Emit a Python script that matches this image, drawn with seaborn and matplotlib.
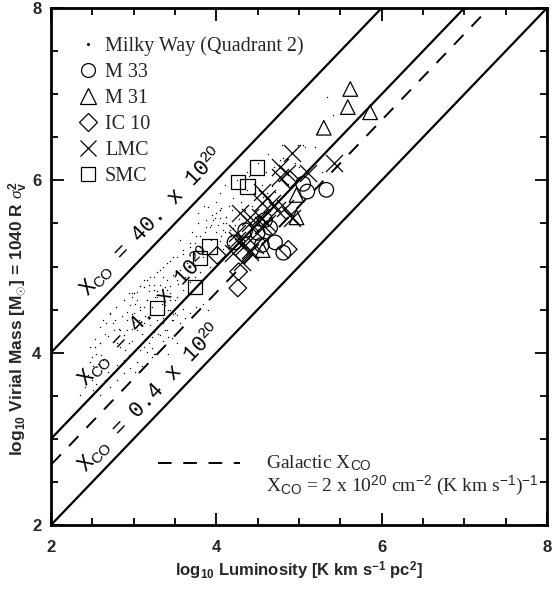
import numpy as np
import pandas as pd
import matplotlib
matplotlib.use("Agg")
import matplotlib.pyplot as plt
import seaborn as sns
from matplotlib.lines import Line2D
from matplotlib.ticker import MultipleLocator

# ---------------- data (log10 L_CO, log10 M_vir) ----------------
mw_lum = [2.94, 2.98, 3.04, 3.12, 3.18, 3.24, 3.28, 3.32, 3.38, 3.44, 3.50, 3.52, 3.48, 3.42, 3.46, 3.36,
          3.28, 3.20, 3.14, 3.08, 3.02, 2.96, 2.92, 2.98, 2.86, 2.78, 2.71, 2.67, 2.65, 2.59, 2.53, 2.49,
          2.55, 2.61, 2.76, 2.80, 2.84, 2.90, 2.94, 2.98, 2.88, 2.92, 2.98, 3.04, 3.10, 3.14, 3.18, 3.12,
          3.08, 3.16, 3.22, 3.24, 3.36, 3.42, 3.40, 3.32, 3.26, 3.20, 3.12, 3.06, 3.00, 2.82,
          2.76, 2.53, 2.47, 2.51, 2.57, 2.63, 2.69, 2.65, 2.55, 2.49, 2.45, 2.41, 2.51, 2.59, 2.47, 2.35,
          2.80, 2.88, 2.94, 3.04, 3.10, 3.02, 2.96, 2.88, 2.80, 2.71,
          3.90, 4.04, 3.98, 3.92, 3.86, 4.00, 4.08, 4.06, 3.76, 3.68, 3.80, 3.60, 3.52, 3.44, 3.36, 3.28,
          3.20, 3.12, 3.08, 3.18, 3.24, 3.32, 3.40, 3.48, 3.56, 3.64, 3.72, 3.62, 3.54, 3.44, 3.36, 3.26,
          3.16, 3.12, 3.22, 3.34, 3.44, 3.52, 3.60, 3.68, 3.42, 3.50, 3.04, 3.00, 3.88, 4.12, 4.16, 3.94,
          3.84, 3.92, 3.80, 3.74, 4.00, 3.78, 3.70,
          3.38, 3.44, 3.42, 3.36, 3.28, 3.24, 3.22, 3.30, 3.38, 3.48, 3.56, 3.62, 3.68, 3.76, 3.84, 3.60,
          3.52, 3.46, 3.38, 3.32, 3.26, 3.22, 3.42, 3.52, 3.90,
          4.63, 4.99, 5.07, 5.23, 4.77, 4.61, 4.67, 4.71, 4.57, 4.06, 4.19, 4.23, 4.04, 4.12, 3.94, 4.37,
          4.43, 4.37, 4.79, 4.87, 4.67,
          5.34, 5.41, 5.05, 5.19, 5.28, 4.95, 4.81,
          4.04, 4.12, 3.96, 3.88, 4.08, 4.17, 3.80, 3.74, 3.68, 3.56, 3.60, 3.48, 3.40, 3.32, 3.24, 3.16,
          3.08, 2.98, 2.88, 2.79, 2.71, 2.63, 2.59, 2.75, 2.92, 2.84, 2.69, 2.59, 2.47, 3.16, 3.28, 3.40,
          3.52, 3.36, 3.08, 3.00,
          4.05, 4.10, 4.15, 4.20, 4.08, 4.18,
          4.00, 4.05, 4.10, 4.15, 4.20, 4.25, 4.30, 4.35, 4.40, 4.45, 4.50, 4.55, 4.60, 4.70, 4.75, 4.85,
          4.90, 4.95, 5.00, 3.95, 3.85, 3.78, 4.02, 4.28, 4.45]
mw_mass = [4.69, 4.65, 4.70, 4.76, 4.72, 4.78, 4.72, 4.67, 4.76, 4.69, 4.61, 4.53, 4.45, 4.42, 4.38, 4.40,
           4.38, 4.45, 4.42, 4.53, 4.57, 4.55, 4.47, 4.45, 4.42, 4.38, 4.45, 4.34, 4.22, 4.11, 4.07, 3.95,
           3.99, 3.97, 4.14, 4.11, 4.07, 4.03, 4.11, 4.14, 4.20, 4.26, 4.28, 4.26, 4.22, 4.16, 4.11, 4.07,
           4.03, 4.01, 4.05, 3.99, 4.13, 4.18, 4.26, 4.20, 4.26, 4.32, 4.34, 4.38, 4.36, 4.28,
           4.26, 4.16, 3.89, 3.84, 3.87, 3.91, 3.78, 3.68, 3.64, 3.68, 3.74, 3.60, 3.57, 3.51, 3.49, 3.51,
           3.86, 3.91, 3.97, 3.89, 3.84, 3.78, 3.82, 3.76, 3.68, 3.60,
           5.69, 5.65, 5.56, 5.46, 5.40, 5.40, 5.50, 5.35, 5.35, 5.27, 5.23, 5.19, 5.11, 5.06, 5.00, 4.94,
           4.88, 4.84, 4.77, 4.79, 4.73, 4.79, 4.84, 4.90, 4.96, 5.04, 5.09, 4.88, 4.80, 4.77, 4.69, 4.65,
           4.61, 4.53, 4.53, 4.57, 4.61, 4.65, 4.73, 4.82, 4.50, 4.46, 4.61, 4.69, 5.54, 5.58, 5.42, 5.31,
           5.11, 5.00, 4.94, 4.88, 5.62, 5.50, 5.40,
           4.55, 4.49, 4.42, 4.34, 4.30, 4.24, 4.18, 4.22, 4.26, 4.38, 4.34, 4.40, 4.46, 4.53, 4.57, 4.51,
           4.44, 4.17, 4.09, 4.03, 3.99, 3.95, 3.99, 4.11, 4.49,
           6.31, 6.41, 6.39, 6.56, 6.24, 5.85, 5.93, 5.87, 5.81, 5.68, 5.66, 5.48, 5.56, 5.50, 5.48, 5.89,
           5.70, 6.10, 6.41, 5.96, 6.06,
           6.97, 6.76, 6.41, 6.39, 6.10, 6.20, 6.26,
           5.65, 5.58, 5.54, 5.46, 5.42, 5.35, 5.35, 5.27, 5.23, 5.31, 5.15, 5.11, 5.04, 4.96, 4.88, 4.84,
           4.77, 4.69, 4.61, 4.53, 4.46, 4.38, 4.30, 4.34, 4.38, 4.26, 4.19, 4.11, 4.07, 4.61, 4.65, 4.73,
           4.84, 4.88, 4.50, 4.46,
           5.30, 5.40, 5.25, 5.45, 5.20, 5.35,
           5.75, 5.85, 5.95, 5.70, 5.80, 6.00, 5.75, 5.65, 6.05, 5.85, 6.20, 5.95, 6.10, 6.15, 6.00, 6.25,
           6.10, 6.35, 6.15, 5.60, 5.70, 5.62, 5.48, 5.55, 5.62]

m33_lum = [5.33, 5.10, 5.05, 4.59, 4.65, 4.50, 4.22, 4.71, 4.81, 4.35, 4.55]
m33_mass = [5.89, 5.87, 5.96, 5.54, 5.45, 5.39, 5.28, 5.28, 5.16, 5.42, 5.25]

m31_lum = [5.62, 5.59, 5.86, 5.30, 4.97, 4.97, 4.56]
m31_mass = [7.06, 6.85, 6.79, 6.61, 5.83, 5.57, 5.19]

ic10_lum = [4.01, 4.27, 4.26, 4.87, 4.89]
ic10_mass = [5.13, 4.94, 4.75, 5.20, 6.01]

lmc_lum = [4.91, 4.77, 4.85, 5.11, 5.42, 4.77, 4.55, 4.61, 4.67, 4.55, 4.73, 4.83, 4.91, 4.89, 4.29,
           4.41, 4.53, 4.61, 4.56, 4.41, 4.49, 4.25, 4.32, 4.41, 4.20, 4.25, 4.32, 4.41, 4.31, 4.47]
lmc_mass = [6.32, 6.16, 6.08, 6.08, 6.20, 6.04, 5.86, 5.79, 5.74, 5.74, 5.65, 5.68, 5.56, 5.60, 5.62,
            5.57, 5.57, 5.50, 5.48, 5.50, 5.39, 5.39, 5.27, 5.19, 5.16, 5.31, 5.23, 5.17, 5.05, 5.25]

smc_lum = [3.28, 3.74, 3.80, 3.92, 4.26, 4.38, 4.49]
smc_mass = [4.52, 4.76, 5.10, 5.23, 5.98, 5.93, 6.15]

# X_CO relations (units of 1e20), M = L + log10(X / 0.4)
xco_lines = [40.0, 4.0, 0.4]
xco_labels = ["40.", "4.", "0.4"]
galactic_xco = 2.0

legend_labels = ["Milky Way (Quadrant 2)", "M 33", "M 31", "IC 10", "LMC", "SMC"]

# ---------------- style ----------------
sns.set_theme(style="ticks")
plt.rcParams["font.family"] = ["Liberation Serif", "DejaVu Serif"]
plt.rcParams["mathtext.fontset"] = "custom"
plt.rcParams["mathtext.rm"] = "Liberation Serif"
plt.rcParams["mathtext.it"] = "Liberation Serif:italic"
plt.rcParams["mathtext.bf"] = "Liberation Sans:bold"
plt.rcParams["mathtext.sf"] = "Liberation Sans"
plt.rcParams["mathtext.tt"] = "Liberation Mono"

fig = plt.figure(figsize=(5.52, 5.90), dpi=100)
ax = fig.add_axes([51 / 552, 1 - 525 / 590, 496 / 552, 517 / 590])
ax.set_xlim(2, 8)
ax.set_ylim(2, 8)

# ---------------- relation lines ----------------
dash = (0, (7, 6))
lum_range = np.array([1.0, 9.0])
for xco in xco_lines:
    sns.lineplot(x=lum_range, y=lum_range + np.log10(xco / 0.4), color="black", lw=1.6, ax=ax, sort=False)
sns.lineplot(x=lum_range, y=lum_range + np.log10(galactic_xco / 0.4), color="black", lw=1.4,
             ax=ax, sort=False, linestyle=dash)

# ---------------- points ----------------
sns.scatterplot(x=mw_lum, y=mw_mass, marker=".", s=4, color="black", linewidth=0, ax=ax)
mk = dict(s=110, facecolor="none", edgecolor="black", linewidth=0.9, ax=ax)
sns.scatterplot(x=m33_lum, y=m33_mass, marker="o", **mk)
sns.scatterplot(x=m31_lum, y=m31_mass, marker="^", **mk)
sns.scatterplot(x=ic10_lum, y=ic10_mass, marker="D", s=80, facecolor="none", edgecolor="black",
                linewidth=0.9, ax=ax)
sns.scatterplot(x=lmc_lum, y=lmc_mass, marker="x", s=150, color="black", linewidth=0.9, ax=ax)
sns.scatterplot(x=smc_lum, y=smc_mass, marker="s", **mk)

# ---------------- line labels ----------------
angle = ax.transData.transform_angles(np.array([45.0]), np.array([[4.0, 5.0]]))[0]
label_pos = [(2.45, 4.64), (2.43, 3.60), (2.43, 2.60)]
for (lx, ly), lab in zip(label_pos, xco_labels):
    ax.text(lx, ly, r"X$_{\mathsf{CO}}$ = " + lab + r" x 10$^{\mathsf{20}}$", rotation=angle,
            rotation_mode="anchor", ha="left", va="baseline", fontsize=15.5,
            fontfamily="Liberation Mono", color="black")

# ---------------- galactic annotation ----------------
ax.plot([3.29, 4.29], [2.72, 2.72], color="black", lw=1.4, linestyle=dash)
ax.text(4.60, 2.72, r"Galactic X$_{\mathsf{CO}}$", fontsize=14, va="center", ha="left")
ax.text(4.60, 2.45, r"X$_{\mathsf{CO}}$ = 2 x 10$^{\mathsf{20}}$ cm$^{\mathsf{-2}}$ (K km s$^{\mathsf{-1}}$)$^{\mathsf{-1}}$",
        fontsize=14, va="center", ha="left", clip_on=False)

# ---------------- legend ----------------
handles = [
    Line2D([], [], marker=".", ms=2.5, ls="none", color="black"),
    Line2D([], [], marker="o", ms=10, ls="none", mfc="none", mec="black", mew=0.9),
    Line2D([], [], marker="^", ms=11, ls="none", mfc="none", mec="black", mew=0.9),
    Line2D([], [], marker="D", ms=9, ls="none", mfc="none", mec="black", mew=0.9),
    Line2D([], [], marker="x", ms=11, ls="none", color="black", mew=0.9),
    Line2D([], [], marker="s", ms=10, ls="none", mfc="none", mec="black", mew=0.9),
]
ax.legend(handles, legend_labels, loc="upper left", bbox_to_anchor=(0.054, 0.946), frameon=False,
          prop={"family": "Liberation Serif", "size": 14.5}, handlelength=1.0, handletextpad=0.35,
          labelspacing=0.35, borderaxespad=0, borderpad=0)

# ---------------- axes styling ----------------
ax.xaxis.set_major_locator(MultipleLocator(2))
ax.yaxis.set_major_locator(MultipleLocator(2))
ax.xaxis.set_minor_locator(MultipleLocator(0.5))
ax.yaxis.set_minor_locator(MultipleLocator(0.5))
ax.tick_params(which="both", direction="in", top=True, right=True, color="black", width=1.3)
ax.tick_params(which="major", length=9)
ax.tick_params(which="minor", length=5)
ax.tick_params(axis="x", which="major", pad=11)
ax.tick_params(axis="y", which="major", pad=7)
for lab in ax.get_xticklabels() + ax.get_yticklabels():
    lab.set_fontfamily("Liberation Sans")
    lab.set_fontweight("bold")
    lab.set_fontsize(12)
for sp in ax.spines.values():
    sp.set_linewidth(2.0)
    sp.set_color("black")

ax.set_xlabel(r"log$_{\mathbf{10}}$ Luminosity [K km s$^{\mathbf{-1}}$ pc$^{\mathbf{2}}$]",
              fontfamily="Liberation Sans", fontweight="bold", fontsize=12, labelpad=3)
ax.set_ylabel(r"log$_{\mathbf{10}}$ Virial Mass [M$_{\odot}$] = 1040 R $\sigma_{\mathbf{v}}^{\mathbf{2}}$",
              fontfamily="Liberation Sans", fontweight="bold", fontsize=12.5)
ax.yaxis.set_label_coords(-0.042, 0.40)

fig.savefig("out.png", dpi=100)
